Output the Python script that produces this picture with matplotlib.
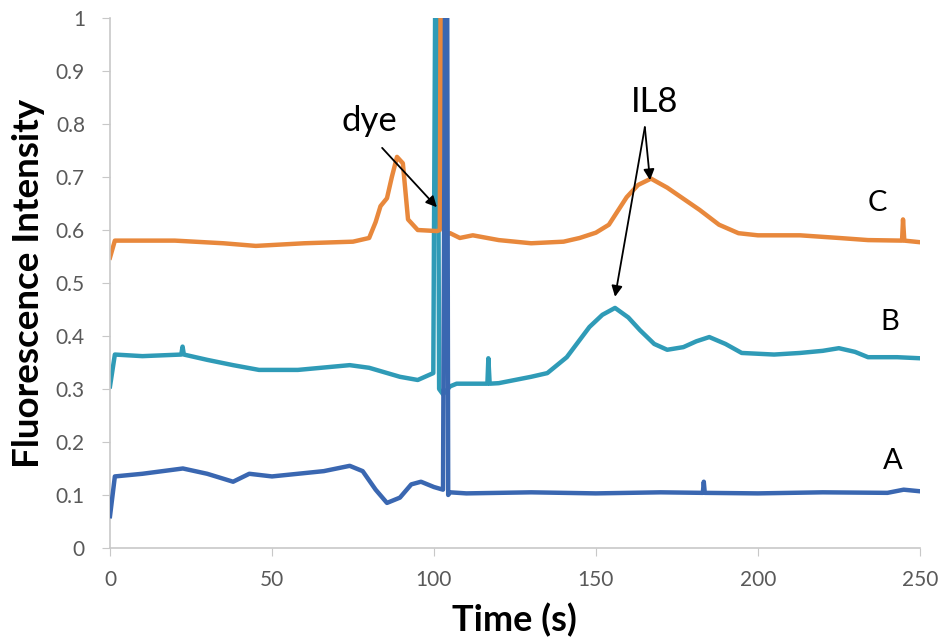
import matplotlib
matplotlib.use("Agg")
import matplotlib.pyplot as plt
from matplotlib.ticker import FuncFormatter

plt.rcParams['font.family'] = ['Lato', 'DejaVu Sans']

# Trace C (orange)
time_C = [0, 1.5, 20, 35, 45, 60, 75, 80, 82, 83.5,
          85.5, 87, 88.6, 90.4, 92, 95, 101, 101.8, 102.2, 103.0,
          103.4, 105, 108, 112, 120, 130, 140, 145, 150, 154,
          159.5, 163, 167, 172, 182, 188, 194, 200, 213, 225,
          234, 244.5, 244.8, 245.2, 250]
val_C = [0.548, 0.58, 0.58, 0.575, 0.57, 0.575, 0.578, 0.585, 0.615, 0.645,
         0.66, 0.70, 0.738, 0.726, 0.62, 0.6, 0.598, 0.6, 1.3, 1.3,
         0.59, 0.594, 0.585, 0.59, 0.581, 0.575, 0.578, 0.585, 0.595, 0.61,
         0.662, 0.685, 0.697, 0.68, 0.638, 0.61, 0.594, 0.59, 0.59, 0.585,
         0.581, 0.58, 0.62, 0.58, 0.577]

# Trace B (teal)
time_B = [0, 1.5, 10, 22, 22.4, 22.8, 30, 38, 46, 58,
          74, 80, 89.5, 95, 99.8, 100.6, 101.0, 101.6, 102.8, 105,
          107, 112, 116.5, 116.8, 117.2, 120, 130, 135, 141, 148,
          152, 155.9, 160, 163.6, 168, 172, 177, 181, 185, 190,
          195, 205, 213, 220, 225, 230, 234, 243, 250]
val_B = [0.305, 0.365, 0.362, 0.365, 0.38, 0.365, 0.355, 0.345, 0.336, 0.336,
         0.345, 0.34, 0.323, 0.317, 0.33, 1.3, 1.3, 0.3, 0.29, 0.305,
         0.31, 0.31, 0.31, 0.358, 0.31, 0.311, 0.323, 0.33, 0.36, 0.417,
         0.44, 0.453, 0.435, 0.411, 0.385, 0.374, 0.379, 0.39, 0.398, 0.385,
         0.368, 0.365, 0.368, 0.372, 0.377, 0.37, 0.36, 0.36, 0.358]

# Trace A (blue)
time_A = [0, 1.5, 10, 22.5, 30, 38, 43, 50, 58, 66,
          74, 78, 82, 85.5, 89.5, 93, 96, 100, 102.8, 103.6,
          104.0, 104.4, 105, 110, 130, 150, 170, 183, 183.3, 183.6,
          200, 220, 240, 245, 250]
val_A = [0.06, 0.135, 0.14, 0.15, 0.14, 0.125, 0.14, 0.135, 0.14, 0.145,
         0.155, 0.145, 0.11, 0.085, 0.095, 0.12, 0.125, 0.115, 0.11, 1.3,
         1.3, 0.1, 0.105, 0.103, 0.105, 0.103, 0.105, 0.104, 0.125, 0.104,
         0.103, 0.105, 0.104, 0.11, 0.107]

x_ticks = [0, 50, 100, 150, 200, 250]
y_ticks = [0, 0.1, 0.2, 0.3, 0.4, 0.5, 0.6, 0.7, 0.8, 0.9, 1.0]

fig = plt.figure(figsize=(9.45, 6.4), dpi=100)
ax = fig.add_axes([0.1164, 0.1438, 0.857, 0.828])

ax.plot(time_A, val_A, color='#3A67B1', lw=3.2, zorder=3)
ax.plot(time_B, val_B, color='#2F9BB7', lw=3.2, zorder=2)
ax.plot(time_C, val_C, color='#E8883C', lw=3.2, zorder=2.5)

ax.set_xlim(0, 250)
ax.set_ylim(0, 1)
ax.set_xticks(x_ticks)
ax.set_yticks(y_ticks)
ax.yaxis.set_major_formatter(FuncFormatter(lambda v, p: f"{v:g}"))

for s in ['top', 'right']:
    ax.spines[s].set_visible(False)
for s in ['left', 'bottom']:
    ax.spines[s].set_color('#C8C8C8')
    ax.spines[s].set_linewidth(1.2)
ax.tick_params(direction='out', length=6, color='#C8C8C8', labelsize=15,
               labelcolor='#595959')
ax.tick_params(axis='y', pad=12)
ax.tick_params(axis='x', pad=10)

ax.set_xlabel("Time (s)", fontsize=26, fontweight='bold')
ax.set_ylabel("Fluorescence Intensity", fontsize=26.5, fontweight='bold')
ax.xaxis.set_label_coords(0.5, -0.103)
ax.yaxis.set_label_coords(-0.08, 0.5)

# annotations
arrow = dict(arrowstyle='-|>', color='black', lw=1.3, mutation_scale=16,
             shrinkA=0, shrinkB=0)
ax.text(80.2, 0.806, "dye", fontsize=25, ha='center', va='center')
ax.annotate("", xy=(100.9, 0.643), xytext=(84, 0.755), arrowprops=arrow)

ax.text(168.2, 0.842, "IL8", fontsize=25, ha='center', va='center')
ax.annotate("", xy=(166.7, 0.694), xytext=(165.1, 0.794), arrowprops=arrow)
ax.annotate("", xy=(155.9, 0.474), xytext=(165.1, 0.794), arrowprops=arrow)

ax.text(237, 0.651, "C", fontsize=21, ha='center', va='center')
ax.text(240.7, 0.426, "B", fontsize=21, ha='center', va='center')
ax.text(241.7, 0.164, "A", fontsize=21, ha='center', va='center')

fig.savefig("out.png", dpi=100)
